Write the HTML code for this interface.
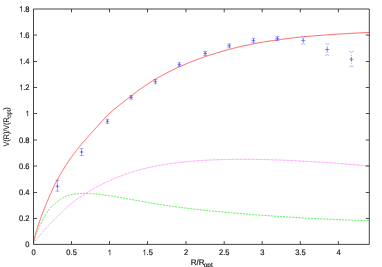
<!DOCTYPE html>
<html><head><meta charset="utf-8"><title>plot</title>
<style>
html,body{margin:0;padding:0;background:#fff;}
svg{display:block;will-change:transform;}
text{font-family:"Liberation Sans",sans-serif;font-size:8.0px;fill:#111;stroke:#111;stroke-width:0.18px;text-rendering:geometricPrecision;}
</style></head><body>
<svg width="382" height="267" viewBox="0 0 382 267">
<rect x="0" y="0" width="382" height="267" fill="#fff"/>

<path d="M33.50,244.39 L33.50,244.24 L33.51,244.09 L33.51,243.93 L33.52,243.77 L33.53,243.59 L33.55,243.41 L33.57,243.23 L33.59,243.04 L33.61,242.84 L33.63,242.63 L33.66,242.42 L33.69,242.20 L33.73,241.98 L33.76,241.75 L33.80,241.51 L33.85,241.27 L33.89,241.02 L33.94,240.77 L33.99,240.51 L34.04,240.24 L34.09,239.97 L34.15,239.69 L34.21,239.41 L34.28,239.12 L34.34,238.82 L34.41,238.52 L34.48,238.21 L34.56,237.89 L34.63,237.57 L34.71,237.25 L34.80,236.92 L34.88,236.58 L34.97,236.24 L35.06,235.89 L35.15,235.54 L35.25,235.18 L35.35,234.81 L35.45,234.44 L35.55,234.07 L35.66,233.69 L35.77,233.30 L35.88,232.91 L35.99,232.51 L36.11,232.11 L36.23,231.70 L36.35,231.29 L36.48,230.87 L36.61,230.45 L36.74,230.02 L36.87,229.58 L37.01,229.15 L37.15,228.70 L37.29,228.25 L37.43,227.80 L37.58,227.34 L37.73,226.88 L37.88,226.41 L38.04,225.94 L38.19,225.46 L38.35,224.98 L38.52,224.49 L38.68,224.00 L38.85,223.50 L39.02,223.00 L39.20,222.50 L39.37,221.99 L39.55,221.47 L39.74,220.95 L39.92,220.43 L40.11,219.90 L40.30,219.37 L40.49,218.83 L40.69,218.29 L40.88,217.74 L41.09,217.19 L41.29,216.64 L41.50,216.08 L41.70,215.52 L41.92,214.95 L42.13,214.38 L42.35,213.81 L42.57,213.23 L42.79,212.64 L43.02,212.06 L43.24,211.47 L43.47,210.87 L43.71,210.27 L43.94,209.67 L44.18,209.06 L44.42,208.45 L44.67,207.84 L44.91,207.22 L45.16,206.60 L45.42,205.98 L45.67,205.35 L45.93,204.72 L46.19,204.08 L46.45,203.44 L46.72,202.80 L46.99,202.15 L47.26,201.50 L47.53,200.85 L47.81,200.19 L48.09,199.53 L48.37,198.87 L48.65,198.20 L48.94,197.53 L49.23,196.86 L49.52,196.19 L49.82,195.51 L50.12,194.82 L50.42,194.14 L50.72,193.45 L51.03,192.76 L51.34,192.07 L51.65,191.37 L51.96,190.67 L52.28,189.97 L52.60,189.27 L52.92,188.57 L53.24,187.87 L53.57,187.17 L53.90,186.47 L54.24,185.77 L54.57,185.08 L54.91,184.39 L55.25,183.70 L55.60,183.01 L55.94,182.33 L56.29,181.65 L56.64,180.98 L57.00,180.31 L57.36,179.65 L57.72,178.99 L58.08,178.34 L58.44,177.69 L58.81,177.05 L59.18,176.40 L59.56,175.76 L59.93,175.12 L60.31,174.47 L60.69,173.83 L61.08,173.19 L61.46,172.54 L61.85,171.89 L62.25,171.24 L62.64,170.58 L63.04,169.92 L63.44,169.26 L63.84,168.60 L64.25,167.94 L64.66,167.27 L65.07,166.61 L65.48,165.94 L65.90,165.28 L66.32,164.61 L66.74,163.95 L67.17,163.29 L67.59,162.63 L68.02,161.97 L68.46,161.32 L68.89,160.67 L69.33,160.02 L69.77,159.38 L70.22,158.74 L70.66,158.11 L71.11,157.48 L71.56,156.85 L72.02,156.22 L72.47,155.60 L72.93,154.98 L73.40,154.36 L73.86,153.75 L74.33,153.13 L74.80,152.52 L75.27,151.91 L75.75,151.30 L76.23,150.70 L76.71,150.09 L77.19,149.48 L77.68,148.88 L78.17,148.27 L78.66,147.67 L79.16,147.07 L79.66,146.46 L80.16,145.86 L80.66,145.26 L81.16,144.65 L81.67,144.05 L82.18,143.45 L82.70,142.84 L83.21,142.24 L83.73,141.64 L84.26,141.03 L84.78,140.42 L85.31,139.82 L85.84,139.21 L86.37,138.60 L86.91,137.99 L87.44,137.38 L87.98,136.77 L88.53,136.15 L89.07,135.54 L89.62,134.92 L90.17,134.30 L90.73,133.68 L91.29,133.06 L91.85,132.43 L92.41,131.80 L92.97,131.17 L93.54,130.54 L94.11,129.91 L94.68,129.27 L95.26,128.63 L95.84,127.99 L96.42,127.34 L97.00,126.69 L97.59,126.04 L98.18,125.38 L98.77,124.72 L99.37,124.06 L99.96,123.40 L100.56,122.74 L101.17,122.07 L101.77,121.41 L102.38,120.74 L102.99,120.08 L103.61,119.42 L104.22,118.76 L104.84,118.11 L105.46,117.46 L106.09,116.81 L106.71,116.17 L107.34,115.54 L107.98,114.91 L108.61,114.29 L109.25,113.68 L109.89,113.07 L110.53,112.48 L111.18,111.89 L111.83,111.31 L112.48,110.74 L113.13,110.17 L113.79,109.61 L114.45,109.06 L115.11,108.51 L115.78,107.97 L116.44,107.43 L117.11,106.90 L117.79,106.36 L118.46,105.83 L119.14,105.30 L119.82,104.77 L120.51,104.25 L121.19,103.72 L121.88,103.19 L122.57,102.66 L123.27,102.13 L123.96,101.59 L124.66,101.05 L125.37,100.51 L126.07,99.96 L126.78,99.41 L127.49,98.86 L128.20,98.30 L128.92,97.74 L129.64,97.18 L130.36,96.61 L131.09,96.04 L131.81,95.47 L132.54,94.90 L133.27,94.33 L134.01,93.76 L134.75,93.20 L135.49,92.63 L136.23,92.06 L136.98,91.50 L137.72,90.94 L138.48,90.38 L139.23,89.83 L139.99,89.28 L140.75,88.73 L141.51,88.19 L142.27,87.65 L143.04,87.12 L143.81,86.59 L144.58,86.06 L145.36,85.54 L146.14,85.02 L146.92,84.50 L147.70,83.99 L148.49,83.48 L149.28,82.97 L150.07,82.47 L150.86,81.97 L151.66,81.47 L152.46,80.98 L153.26,80.49 L154.07,80.00 L154.87,79.52 L155.68,79.04 L156.50,78.56 L157.31,78.09 L158.13,77.62 L158.95,77.15 L159.78,76.68 L160.60,76.22 L161.43,75.76 L162.26,75.31 L163.10,74.86 L163.94,74.41 L164.78,73.96 L165.62,73.52 L166.47,73.07 L167.31,72.64 L168.16,72.20 L169.02,71.77 L169.87,71.34 L170.73,70.91 L171.60,70.49 L172.46,70.07 L173.33,69.65 L174.20,69.23 L175.07,68.82 L175.94,68.41 L176.82,68.00 L177.70,67.59 L178.59,67.19 L179.47,66.79 L180.36,66.39 L181.25,65.99 L182.15,65.60 L183.04,65.21 L183.94,64.82 L184.85,64.43 L185.75,64.05 L186.66,63.67 L187.57,63.29 L188.48,62.91 L189.40,62.54 L190.32,62.17 L191.24,61.80 L192.16,61.43 L193.09,61.07 L194.02,60.71 L194.95,60.35 L195.88,59.99 L196.82,59.64 L197.76,59.29 L198.70,58.94 L199.65,58.59 L200.60,58.25 L201.55,57.91 L202.50,57.57 L203.46,57.23 L204.41,56.90 L205.38,56.57 L206.34,56.24 L207.31,55.91 L208.28,55.59 L209.25,55.27 L210.22,54.95 L211.20,54.63 L212.18,54.32 L213.17,54.01 L214.15,53.70 L215.14,53.39 L216.13,53.09 L217.13,52.79 L218.12,52.49 L219.12,52.19 L220.12,51.90 L221.13,51.61 L222.14,51.32 L223.15,51.03 L224.16,50.75 L225.17,50.47 L226.19,50.19 L227.21,49.91 L228.24,49.64 L229.26,49.37 L230.29,49.10 L231.32,48.83 L232.36,48.57 L233.39,48.31 L234.43,48.05 L235.48,47.79 L236.52,47.54 L237.57,47.29 L238.62,47.04 L239.67,46.79 L240.73,46.55 L241.79,46.31 L242.85,46.07 L243.91,45.83 L244.98,45.60 L246.05,45.37 L247.12,45.14 L248.20,44.91 L249.27,44.69 L250.35,44.47 L251.44,44.25 L252.52,44.03 L253.61,43.82 L254.70,43.61 L255.80,43.40 L256.89,43.20 L257.99,42.99 L259.09,42.79 L260.20,42.59 L261.30,42.40 L262.41,42.20 L263.53,42.01 L264.64,41.83 L265.76,41.64 L266.88,41.46 L268.00,41.28 L269.13,41.10 L270.26,40.92 L271.39,40.75 L272.53,40.58 L273.66,40.41 L274.80,40.24 L275.94,40.08 L277.09,39.92 L278.24,39.76 L279.39,39.60 L280.54,39.44 L281.70,39.29 L282.85,39.14 L284.02,38.99 L285.18,38.84 L286.35,38.70 L287.51,38.56 L288.69,38.42 L289.86,38.28 L291.04,38.14 L292.22,38.01 L293.40,37.87 L294.59,37.74 L295.77,37.61 L296.97,37.48 L298.16,37.36 L299.36,37.23 L300.55,37.11 L301.76,36.99 L302.96,36.87 L304.17,36.76 L305.38,36.64 L306.59,36.53 L307.80,36.42 L309.02,36.30 L310.24,36.20 L311.47,36.09 L312.69,35.98 L313.92,35.88 L315.15,35.78 L316.39,35.67 L317.62,35.57 L318.86,35.47 L320.10,35.38 L321.35,35.28 L322.60,35.19 L323.85,35.09 L325.10,35.00 L326.35,34.91 L327.61,34.82 L328.87,34.73 L330.14,34.64 L331.40,34.56 L332.67,34.47 L333.94,34.39 L335.22,34.31 L336.50,34.22 L337.78,34.14 L339.06,34.06 L340.34,33.99 L341.63,33.91 L342.92,33.83 L344.21,33.75 L345.51,33.68 L346.81,33.60 L348.11,33.53 L349.42,33.46 L350.72,33.39 L352.03,33.32 L353.34,33.24 L354.66,33.17 L355.98,33.11 L357.30,33.04 L358.62,32.97 L359.94,32.90 L361.27,32.84 L362.60,32.77 L363.94,32.70 L365.27,32.64 L366.61,32.57 L367.96,32.51 L369.30,32.45" fill="none" stroke="#ff2828" stroke-width="0.72"/>
<path d="M33.50,244.20 L33.50,244.04 L33.51,243.88 L33.51,243.72 L33.52,243.55 L33.53,243.38 L33.55,243.21 L33.57,243.04 L33.59,242.86 L33.61,242.68 L33.63,242.49 L33.66,242.30 L33.69,242.11 L33.73,241.92 L33.76,241.72 L33.80,241.53 L33.85,241.32 L33.89,241.12 L33.94,240.91 L33.99,240.70 L34.04,240.48 L34.09,240.26 L34.15,240.04 L34.21,239.82 L34.28,239.59 L34.34,239.36 L34.41,239.12 L34.48,238.88 L34.56,238.64 L34.63,238.40 L34.71,238.15 L34.80,237.90 L34.88,237.64 L34.97,237.38 L35.06,237.12 L35.15,236.85 L35.25,236.58 L35.35,236.31 L35.45,236.04 L35.55,235.76 L35.66,235.47 L35.77,235.19 L35.88,234.90 L35.99,234.60 L36.11,234.30 L36.23,234.00 L36.35,233.70 L36.48,233.39 L36.61,233.08 L36.74,232.76 L36.87,232.44 L37.01,232.11 L37.15,231.79 L37.29,231.46 L37.43,231.12 L37.58,230.78 L37.73,230.44 L37.88,230.09 L38.04,229.74 L38.19,229.38 L38.35,229.03 L38.52,228.66 L38.68,228.30 L38.85,227.92 L39.02,227.55 L39.20,227.17 L39.37,226.79 L39.55,226.40 L39.74,226.01 L39.92,225.61 L40.11,225.21 L40.30,224.81 L40.49,224.40 L40.69,223.99 L40.88,223.58 L41.09,223.16 L41.29,222.74 L41.50,222.31 L41.70,221.89 L41.92,221.46 L42.13,221.03 L42.35,220.59 L42.57,220.16 L42.79,219.72 L43.02,219.29 L43.24,218.85 L43.47,218.42 L43.71,217.98 L43.94,217.54 L44.18,217.11 L44.42,216.67 L44.67,216.24 L44.91,215.80 L45.16,215.37 L45.42,214.94 L45.67,214.51 L45.93,214.09 L46.19,213.66 L46.45,213.24 L46.72,212.82 L46.99,212.41 L47.26,212.00 L47.53,211.59 L47.81,211.19 L48.09,210.79 L48.37,210.40 L48.65,210.01 L48.94,209.62 L49.23,209.25 L49.52,208.87 L49.82,208.51 L50.12,208.15 L50.42,207.79 L50.72,207.44 L51.03,207.10 L51.34,206.77 L51.65,206.45 L51.96,206.13 L52.28,205.82 L52.60,205.52 L52.92,205.22 L53.24,204.94 L53.57,204.66 L53.90,204.38 L54.24,204.11 L54.57,203.85 L54.91,203.58 L55.25,203.31 L55.60,203.05 L55.94,202.78 L56.29,202.51 L56.64,202.24 L57.00,201.97 L57.36,201.69 L57.72,201.42 L58.08,201.15 L58.44,200.87 L58.81,200.60 L59.18,200.33 L59.56,200.06 L59.93,199.80 L60.31,199.54 L60.69,199.28 L61.08,199.02 L61.46,198.77 L61.85,198.53 L62.25,198.28 L62.64,198.05 L63.04,197.82 L63.44,197.60 L63.84,197.38 L64.25,197.17 L64.66,196.97 L65.07,196.78 L65.48,196.59 L65.90,196.41 L66.32,196.24 L66.74,196.07 L67.17,195.91 L67.59,195.75 L68.02,195.60 L68.46,195.46 L68.89,195.32 L69.33,195.19 L69.77,195.06 L70.22,194.94 L70.66,194.83 L71.11,194.72 L71.56,194.61 L72.02,194.52 L72.47,194.42 L72.93,194.33 L73.40,194.25 L73.86,194.17 L74.33,194.09 L74.80,194.02 L75.27,193.96 L75.75,193.89 L76.23,193.84 L76.71,193.78 L77.19,193.73 L77.68,193.69 L78.17,193.64 L78.66,193.61 L79.16,193.57 L79.66,193.54 L80.16,193.51 L80.66,193.49 L81.16,193.46 L81.67,193.44 L82.18,193.43 L82.70,193.42 L83.21,193.41 L83.73,193.40 L84.26,193.40 L84.78,193.40 L85.31,193.40 L85.84,193.41 L86.37,193.41 L86.91,193.43 L87.44,193.44 L87.98,193.46 L88.53,193.48 L89.07,193.50 L89.62,193.53 L90.17,193.55 L90.73,193.58 L91.29,193.62 L91.85,193.65 L92.41,193.69 L92.97,193.73 L93.54,193.78 L94.11,193.82 L94.68,193.87 L95.26,193.92 L95.84,193.98 L96.42,194.03 L97.00,194.09 L97.59,194.15 L98.18,194.21 L98.77,194.28 L99.37,194.34 L99.96,194.41 L100.56,194.48 L101.17,194.56 L101.77,194.63 L102.38,194.71 L102.99,194.79 L103.61,194.87 L104.22,194.95 L104.84,195.03 L105.46,195.12 L106.09,195.21 L106.71,195.30 L107.34,195.39 L107.98,195.48 L108.61,195.58 L109.25,195.68 L109.89,195.78 L110.53,195.88 L111.18,195.98 L111.83,196.08 L112.48,196.18 L113.13,196.29 L113.79,196.40 L114.45,196.51 L115.11,196.62 L115.78,196.73 L116.44,196.84 L117.11,196.96 L117.79,197.07 L118.46,197.19 L119.14,197.31 L119.82,197.42 L120.51,197.54 L121.19,197.66 L121.88,197.79 L122.57,197.91 L123.27,198.03 L123.96,198.16 L124.66,198.28 L125.37,198.41 L126.07,198.54 L126.78,198.67 L127.49,198.79 L128.20,198.92 L128.92,199.05 L129.64,199.18 L130.36,199.32 L131.09,199.45 L131.81,199.58 L132.54,199.71 L133.27,199.85 L134.01,199.98 L134.75,200.12 L135.49,200.25 L136.23,200.39 L136.98,200.52 L137.72,200.66 L138.48,200.80 L139.23,200.93 L139.99,201.07 L140.75,201.21 L141.51,201.34 L142.27,201.48 L143.04,201.62 L143.81,201.76 L144.58,201.89 L145.36,202.03 L146.14,202.17 L146.92,202.30 L147.70,202.44 L148.49,202.58 L149.28,202.71 L150.07,202.85 L150.86,202.99 L151.66,203.12 L152.46,203.26 L153.26,203.39 L154.07,203.53 L154.87,203.66 L155.68,203.80 L156.50,203.93 L157.31,204.06 L158.13,204.20 L158.95,204.33 L159.78,204.46 L160.60,204.59 L161.43,204.72 L162.26,204.85 L163.10,204.98 L163.94,205.11 L164.78,205.23 L165.62,205.36 L166.47,205.49 L167.31,205.61 L168.16,205.74 L169.02,205.86 L169.87,205.99 L170.73,206.11 L171.60,206.23 L172.46,206.35 L173.33,206.47 L174.20,206.60 L175.07,206.72 L175.94,206.84 L176.82,206.95 L177.70,207.07 L178.59,207.19 L179.47,207.31 L180.36,207.42 L181.25,207.54 L182.15,207.66 L183.04,207.77 L183.94,207.89 L184.85,208.00 L185.75,208.11 L186.66,208.23 L187.57,208.34 L188.48,208.45 L189.40,208.56 L190.32,208.67 L191.24,208.78 L192.16,208.89 L193.09,209.00 L194.02,209.11 L194.95,209.21 L195.88,209.32 L196.82,209.43 L197.76,209.53 L198.70,209.64 L199.65,209.74 L200.60,209.85 L201.55,209.95 L202.50,210.06 L203.46,210.16 L204.41,210.26 L205.38,210.36 L206.34,210.46 L207.31,210.57 L208.28,210.67 L209.25,210.77 L210.22,210.87 L211.20,210.96 L212.18,211.06 L213.17,211.16 L214.15,211.26 L215.14,211.35 L216.13,211.45 L217.13,211.55 L218.12,211.64 L219.12,211.74 L220.12,211.83 L221.13,211.92 L222.14,212.02 L223.15,212.11 L224.16,212.20 L225.17,212.30 L226.19,212.39 L227.21,212.48 L228.24,212.57 L229.26,212.66 L230.29,212.75 L231.32,212.84 L232.36,212.93 L233.39,213.02 L234.43,213.10 L235.48,213.19 L236.52,213.28 L237.57,213.37 L238.62,213.45 L239.67,213.54 L240.73,213.62 L241.79,213.71 L242.85,213.80 L243.91,213.88 L244.98,213.96 L246.05,214.05 L247.12,214.13 L248.20,214.22 L249.27,214.30 L250.35,214.38 L251.44,214.47 L252.52,214.55 L253.61,214.63 L254.70,214.71 L255.80,214.79 L256.89,214.87 L257.99,214.96 L259.09,215.04 L260.20,215.12 L261.30,215.20 L262.41,215.28 L263.53,215.36 L264.64,215.44 L265.76,215.52 L266.88,215.60 L268.00,215.67 L269.13,215.75 L270.26,215.83 L271.39,215.91 L272.53,215.99 L273.66,216.07 L274.80,216.14 L275.94,216.22 L277.09,216.30 L278.24,216.37 L279.39,216.45 L280.54,216.53 L281.70,216.60 L282.85,216.68 L284.02,216.75 L285.18,216.83 L286.35,216.90 L287.51,216.98 L288.69,217.05 L289.86,217.13 L291.04,217.20 L292.22,217.27 L293.40,217.34 L294.59,217.42 L295.77,217.49 L296.97,217.56 L298.16,217.63 L299.36,217.70 L300.55,217.77 L301.76,217.84 L302.96,217.91 L304.17,217.97 L305.38,218.04 L306.59,218.11 L307.80,218.18 L309.02,218.24 L310.24,218.31 L311.47,218.37 L312.69,218.44 L313.92,218.50 L315.15,218.56 L316.39,218.63 L317.62,218.69 L318.86,218.75 L320.10,218.81 L321.35,218.87 L322.60,218.93 L323.85,218.99 L325.10,219.05 L326.35,219.11 L327.61,219.16 L328.87,219.22 L330.14,219.28 L331.40,219.33 L332.67,219.38 L333.94,219.44 L335.22,219.49 L336.50,219.54 L337.78,219.59 L339.06,219.64 L340.34,219.69 L341.63,219.74 L342.92,219.79 L344.21,219.84 L345.51,219.89 L346.81,219.93 L348.11,219.98 L349.42,220.02 L350.72,220.06 L352.03,220.11 L353.34,220.15 L354.66,220.19 L355.98,220.23 L357.30,220.27 L358.62,220.31 L359.94,220.34 L361.27,220.38 L362.60,220.41 L363.94,220.45 L365.27,220.48 L366.61,220.51 L367.96,220.55 L369.30,220.58" fill="none" stroke="#18ea18" stroke-width="0.78" stroke-dasharray="1.9 1.2"/>
<path d="M33.50,244.20 L33.50,244.17 L33.51,244.13 L33.51,244.09 L33.52,244.05 L33.53,244.01 L33.55,243.96 L33.57,243.91 L33.59,243.85 L33.61,243.80 L33.63,243.74 L33.66,243.67 L33.69,243.61 L33.73,243.54 L33.76,243.47 L33.80,243.39 L33.85,243.31 L33.89,243.23 L33.94,243.15 L33.99,243.06 L34.04,242.97 L34.09,242.88 L34.15,242.79 L34.21,242.69 L34.28,242.59 L34.34,242.48 L34.41,242.38 L34.48,242.27 L34.56,242.15 L34.63,242.04 L34.71,241.92 L34.80,241.80 L34.88,241.68 L34.97,241.55 L35.06,241.42 L35.15,241.29 L35.25,241.16 L35.35,241.02 L35.45,240.88 L35.55,240.74 L35.66,240.59 L35.77,240.44 L35.88,240.29 L35.99,240.14 L36.11,239.98 L36.23,239.82 L36.35,239.66 L36.48,239.50 L36.61,239.33 L36.74,239.16 L36.87,238.99 L37.01,238.81 L37.15,238.64 L37.29,238.46 L37.43,238.27 L37.58,238.09 L37.73,237.90 L37.88,237.71 L38.04,237.52 L38.19,237.32 L38.35,237.13 L38.52,236.93 L38.68,236.72 L38.85,236.52 L39.02,236.31 L39.20,236.10 L39.37,235.89 L39.55,235.67 L39.74,235.46 L39.92,235.24 L40.11,235.01 L40.30,234.79 L40.49,234.56 L40.69,234.33 L40.88,234.10 L41.09,233.87 L41.29,233.63 L41.50,233.39 L41.70,233.15 L41.92,232.91 L42.13,232.66 L42.35,232.41 L42.57,232.16 L42.79,231.91 L43.02,231.65 L43.24,231.39 L43.47,231.13 L43.71,230.87 L43.94,230.61 L44.18,230.34 L44.42,230.07 L44.67,229.80 L44.91,229.53 L45.16,229.25 L45.42,228.98 L45.67,228.70 L45.93,228.41 L46.19,228.13 L46.45,227.84 L46.72,227.55 L46.99,227.26 L47.26,226.97 L47.53,226.68 L47.81,226.38 L48.09,226.08 L48.37,225.78 L48.65,225.48 L48.94,225.17 L49.23,224.86 L49.52,224.55 L49.82,224.24 L50.12,223.93 L50.42,223.61 L50.72,223.30 L51.03,222.98 L51.34,222.65 L51.65,222.33 L51.96,222.01 L52.28,221.68 L52.60,221.35 L52.92,221.02 L53.24,220.68 L53.57,220.35 L53.90,220.01 L54.24,219.67 L54.57,219.33 L54.91,218.99 L55.25,218.64 L55.60,218.30 L55.94,217.95 L56.29,217.60 L56.64,217.25 L57.00,216.89 L57.36,216.54 L57.72,216.18 L58.08,215.82 L58.44,215.46 L58.81,215.09 L59.18,214.73 L59.56,214.36 L59.93,213.99 L60.31,213.62 L60.69,213.25 L61.08,212.88 L61.46,212.50 L61.85,212.12 L62.25,211.75 L62.64,211.37 L63.04,210.99 L63.44,210.60 L63.84,210.22 L64.25,209.84 L64.66,209.45 L65.07,209.07 L65.48,208.68 L65.90,208.30 L66.32,207.91 L66.74,207.53 L67.17,207.14 L67.59,206.76 L68.02,206.38 L68.46,205.99 L68.89,205.61 L69.33,205.23 L69.77,204.85 L70.22,204.47 L70.66,204.09 L71.11,203.72 L71.56,203.35 L72.02,202.97 L72.47,202.60 L72.93,202.23 L73.40,201.87 L73.86,201.50 L74.33,201.14 L74.80,200.78 L75.27,200.42 L75.75,200.06 L76.23,199.70 L76.71,199.35 L77.19,198.99 L77.68,198.64 L78.17,198.29 L78.66,197.94 L79.16,197.59 L79.66,197.25 L80.16,196.90 L80.66,196.56 L81.16,196.22 L81.67,195.88 L82.18,195.54 L82.70,195.20 L83.21,194.86 L83.73,194.53 L84.26,194.19 L84.78,193.86 L85.31,193.53 L85.84,193.20 L86.37,192.87 L86.91,192.54 L87.44,192.21 L87.98,191.89 L88.53,191.56 L89.07,191.24 L89.62,190.91 L90.17,190.59 L90.73,190.27 L91.29,189.95 L91.85,189.63 L92.41,189.31 L92.97,189.00 L93.54,188.68 L94.11,188.36 L94.68,188.05 L95.26,187.73 L95.84,187.42 L96.42,187.11 L97.00,186.79 L97.59,186.48 L98.18,186.17 L98.77,185.86 L99.37,185.56 L99.96,185.25 L100.56,184.94 L101.17,184.64 L101.77,184.34 L102.38,184.03 L102.99,183.73 L103.61,183.43 L104.22,183.13 L104.84,182.83 L105.46,182.54 L106.09,182.24 L106.71,181.95 L107.34,181.65 L107.98,181.36 L108.61,181.07 L109.25,180.78 L109.89,180.50 L110.53,180.21 L111.18,179.93 L111.83,179.64 L112.48,179.36 L113.13,179.08 L113.79,178.80 L114.45,178.52 L115.11,178.25 L115.78,177.97 L116.44,177.70 L117.11,177.43 L117.79,177.16 L118.46,176.89 L119.14,176.62 L119.82,176.36 L120.51,176.10 L121.19,175.84 L121.88,175.58 L122.57,175.32 L123.27,175.06 L123.96,174.81 L124.66,174.56 L125.37,174.31 L126.07,174.06 L126.78,173.81 L127.49,173.57 L128.20,173.32 L128.92,173.08 L129.64,172.84 L130.36,172.61 L131.09,172.37 L131.81,172.14 L132.54,171.91 L133.27,171.68 L134.01,171.46 L134.75,171.23 L135.49,171.01 L136.23,170.79 L136.98,170.57 L137.72,170.36 L138.48,170.14 L139.23,169.93 L139.99,169.72 L140.75,169.52 L141.51,169.31 L142.27,169.11 L143.04,168.91 L143.81,168.72 L144.58,168.52 L145.36,168.33 L146.14,168.14 L146.92,167.95 L147.70,167.77 L148.49,167.59 L149.28,167.41 L150.07,167.23 L150.86,167.06 L151.66,166.88 L152.46,166.71 L153.26,166.55 L154.07,166.38 L154.87,166.22 L155.68,166.06 L156.50,165.90 L157.31,165.75 L158.13,165.59 L158.95,165.44 L159.78,165.29 L160.60,165.15 L161.43,165.00 L162.26,164.86 L163.10,164.72 L163.94,164.58 L164.78,164.45 L165.62,164.31 L166.47,164.18 L167.31,164.05 L168.16,163.93 L169.02,163.80 L169.87,163.68 L170.73,163.56 L171.60,163.44 L172.46,163.32 L173.33,163.21 L174.20,163.09 L175.07,162.98 L175.94,162.87 L176.82,162.77 L177.70,162.66 L178.59,162.56 L179.47,162.45 L180.36,162.35 L181.25,162.26 L182.15,162.16 L183.04,162.07 L183.94,161.97 L184.85,161.88 L185.75,161.79 L186.66,161.71 L187.57,161.62 L188.48,161.54 L189.40,161.45 L190.32,161.37 L191.24,161.29 L192.16,161.22 L193.09,161.14 L194.02,161.07 L194.95,160.99 L195.88,160.92 L196.82,160.85 L197.76,160.78 L198.70,160.72 L199.65,160.65 L200.60,160.59 L201.55,160.53 L202.50,160.47 L203.46,160.41 L204.41,160.35 L205.38,160.30 L206.34,160.24 L207.31,160.19 L208.28,160.14 L209.25,160.09 L210.22,160.04 L211.20,160.00 L212.18,159.95 L213.17,159.91 L214.15,159.87 L215.14,159.83 L216.13,159.79 L217.13,159.75 L218.12,159.72 L219.12,159.68 L220.12,159.65 L221.13,159.62 L222.14,159.59 L223.15,159.56 L224.16,159.54 L225.17,159.51 L226.19,159.49 L227.21,159.47 L228.24,159.45 L229.26,159.43 L230.29,159.41 L231.32,159.39 L232.36,159.38 L233.39,159.36 L234.43,159.35 L235.48,159.34 L236.52,159.33 L237.57,159.32 L238.62,159.32 L239.67,159.31 L240.73,159.31 L241.79,159.31 L242.85,159.30 L243.91,159.31 L244.98,159.31 L246.05,159.31 L247.12,159.32 L248.20,159.32 L249.27,159.33 L250.35,159.34 L251.44,159.35 L252.52,159.36 L253.61,159.37 L254.70,159.39 L255.80,159.40 L256.89,159.42 L257.99,159.44 L259.09,159.45 L260.20,159.48 L261.30,159.50 L262.41,159.52 L263.53,159.55 L264.64,159.57 L265.76,159.60 L266.88,159.63 L268.00,159.66 L269.13,159.69 L270.26,159.72 L271.39,159.75 L272.53,159.79 L273.66,159.82 L274.80,159.86 L275.94,159.90 L277.09,159.94 L278.24,159.98 L279.39,160.02 L280.54,160.07 L281.70,160.11 L282.85,160.16 L284.02,160.21 L285.18,160.25 L286.35,160.30 L287.51,160.35 L288.69,160.41 L289.86,160.46 L291.04,160.51 L292.22,160.57 L293.40,160.63 L294.59,160.68 L295.77,160.74 L296.97,160.80 L298.16,160.87 L299.36,160.93 L300.55,160.99 L301.76,161.06 L302.96,161.12 L304.17,161.19 L305.38,161.26 L306.59,161.33 L307.80,161.40 L309.02,161.47 L310.24,161.54 L311.47,161.62 L312.69,161.69 L313.92,161.77 L315.15,161.85 L316.39,161.92 L317.62,162.00 L318.86,162.08 L320.10,162.17 L321.35,162.25 L322.60,162.33 L323.85,162.42 L325.10,162.50 L326.35,162.59 L327.61,162.68 L328.87,162.77 L330.14,162.86 L331.40,162.95 L332.67,163.04 L333.94,163.13 L335.22,163.23 L336.50,163.32 L337.78,163.42 L339.06,163.52 L340.34,163.61 L341.63,163.71 L342.92,163.81 L344.21,163.91 L345.51,164.02 L346.81,164.12 L348.11,164.22 L349.42,164.33 L350.72,164.44 L352.03,164.54 L353.34,164.65 L354.66,164.76 L355.98,164.87 L357.30,164.98 L358.62,165.09 L359.94,165.21 L361.27,165.32 L362.60,165.43 L363.94,165.55 L365.27,165.67 L366.61,165.78 L367.96,165.90 L369.30,166.02" fill="none" stroke="#ffb4ff" stroke-width="0.8"/>
<path d="M33.50,244.20 L33.50,244.17 L33.51,244.13 L33.51,244.09 L33.52,244.05 L33.53,244.01 L33.55,243.96 L33.57,243.91 L33.59,243.85 L33.61,243.80 L33.63,243.74 L33.66,243.67 L33.69,243.61 L33.73,243.54 L33.76,243.47 L33.80,243.39 L33.85,243.31 L33.89,243.23 L33.94,243.15 L33.99,243.06 L34.04,242.97 L34.09,242.88 L34.15,242.79 L34.21,242.69 L34.28,242.59 L34.34,242.48 L34.41,242.38 L34.48,242.27 L34.56,242.15 L34.63,242.04 L34.71,241.92 L34.80,241.80 L34.88,241.68 L34.97,241.55 L35.06,241.42 L35.15,241.29 L35.25,241.16 L35.35,241.02 L35.45,240.88 L35.55,240.74 L35.66,240.59 L35.77,240.44 L35.88,240.29 L35.99,240.14 L36.11,239.98 L36.23,239.82 L36.35,239.66 L36.48,239.50 L36.61,239.33 L36.74,239.16 L36.87,238.99 L37.01,238.81 L37.15,238.64 L37.29,238.46 L37.43,238.27 L37.58,238.09 L37.73,237.90 L37.88,237.71 L38.04,237.52 L38.19,237.32 L38.35,237.13 L38.52,236.93 L38.68,236.72 L38.85,236.52 L39.02,236.31 L39.20,236.10 L39.37,235.89 L39.55,235.67 L39.74,235.46 L39.92,235.24 L40.11,235.01 L40.30,234.79 L40.49,234.56 L40.69,234.33 L40.88,234.10 L41.09,233.87 L41.29,233.63 L41.50,233.39 L41.70,233.15 L41.92,232.91 L42.13,232.66 L42.35,232.41 L42.57,232.16 L42.79,231.91 L43.02,231.65 L43.24,231.39 L43.47,231.13 L43.71,230.87 L43.94,230.61 L44.18,230.34 L44.42,230.07 L44.67,229.80 L44.91,229.53 L45.16,229.25 L45.42,228.98 L45.67,228.70 L45.93,228.41 L46.19,228.13 L46.45,227.84 L46.72,227.55 L46.99,227.26 L47.26,226.97 L47.53,226.68 L47.81,226.38 L48.09,226.08 L48.37,225.78 L48.65,225.48 L48.94,225.17 L49.23,224.86 L49.52,224.55 L49.82,224.24 L50.12,223.93 L50.42,223.61 L50.72,223.30 L51.03,222.98 L51.34,222.65 L51.65,222.33 L51.96,222.01 L52.28,221.68 L52.60,221.35 L52.92,221.02 L53.24,220.68 L53.57,220.35 L53.90,220.01 L54.24,219.67 L54.57,219.33 L54.91,218.99 L55.25,218.64 L55.60,218.30 L55.94,217.95 L56.29,217.60 L56.64,217.25 L57.00,216.89 L57.36,216.54 L57.72,216.18 L58.08,215.82 L58.44,215.46 L58.81,215.09 L59.18,214.73 L59.56,214.36 L59.93,213.99 L60.31,213.62 L60.69,213.25 L61.08,212.88 L61.46,212.50 L61.85,212.12 L62.25,211.75 L62.64,211.37 L63.04,210.99 L63.44,210.60 L63.84,210.22 L64.25,209.84 L64.66,209.45 L65.07,209.07 L65.48,208.68 L65.90,208.30 L66.32,207.91 L66.74,207.53 L67.17,207.14 L67.59,206.76 L68.02,206.38 L68.46,205.99 L68.89,205.61 L69.33,205.23 L69.77,204.85 L70.22,204.47 L70.66,204.09 L71.11,203.72 L71.56,203.35 L72.02,202.97 L72.47,202.60 L72.93,202.23 L73.40,201.87 L73.86,201.50 L74.33,201.14 L74.80,200.78 L75.27,200.42 L75.75,200.06 L76.23,199.70 L76.71,199.35 L77.19,198.99 L77.68,198.64 L78.17,198.29 L78.66,197.94 L79.16,197.59 L79.66,197.25 L80.16,196.90 L80.66,196.56 L81.16,196.22 L81.67,195.88 L82.18,195.54 L82.70,195.20 L83.21,194.86 L83.73,194.53 L84.26,194.19 L84.78,193.86 L85.31,193.53 L85.84,193.20 L86.37,192.87 L86.91,192.54 L87.44,192.21 L87.98,191.89 L88.53,191.56 L89.07,191.24 L89.62,190.91 L90.17,190.59 L90.73,190.27 L91.29,189.95 L91.85,189.63 L92.41,189.31 L92.97,189.00 L93.54,188.68 L94.11,188.36 L94.68,188.05 L95.26,187.73 L95.84,187.42 L96.42,187.11 L97.00,186.79 L97.59,186.48 L98.18,186.17 L98.77,185.86 L99.37,185.56 L99.96,185.25 L100.56,184.94 L101.17,184.64 L101.77,184.34 L102.38,184.03 L102.99,183.73 L103.61,183.43 L104.22,183.13 L104.84,182.83 L105.46,182.54 L106.09,182.24 L106.71,181.95 L107.34,181.65 L107.98,181.36 L108.61,181.07 L109.25,180.78 L109.89,180.50 L110.53,180.21 L111.18,179.93 L111.83,179.64 L112.48,179.36 L113.13,179.08 L113.79,178.80 L114.45,178.52 L115.11,178.25 L115.78,177.97 L116.44,177.70 L117.11,177.43 L117.79,177.16 L118.46,176.89 L119.14,176.62 L119.82,176.36 L120.51,176.10 L121.19,175.84 L121.88,175.58 L122.57,175.32 L123.27,175.06 L123.96,174.81 L124.66,174.56 L125.37,174.31 L126.07,174.06 L126.78,173.81 L127.49,173.57 L128.20,173.32 L128.92,173.08 L129.64,172.84 L130.36,172.61 L131.09,172.37 L131.81,172.14 L132.54,171.91 L133.27,171.68 L134.01,171.46 L134.75,171.23 L135.49,171.01 L136.23,170.79 L136.98,170.57 L137.72,170.36 L138.48,170.14 L139.23,169.93 L139.99,169.72 L140.75,169.52 L141.51,169.31 L142.27,169.11 L143.04,168.91 L143.81,168.72 L144.58,168.52 L145.36,168.33 L146.14,168.14 L146.92,167.95 L147.70,167.77 L148.49,167.59 L149.28,167.41 L150.07,167.23 L150.86,167.06 L151.66,166.88 L152.46,166.71 L153.26,166.55 L154.07,166.38 L154.87,166.22 L155.68,166.06 L156.50,165.90 L157.31,165.75 L158.13,165.59 L158.95,165.44 L159.78,165.29 L160.60,165.15 L161.43,165.00 L162.26,164.86 L163.10,164.72 L163.94,164.58 L164.78,164.45 L165.62,164.31 L166.47,164.18 L167.31,164.05 L168.16,163.93 L169.02,163.80 L169.87,163.68 L170.73,163.56 L171.60,163.44 L172.46,163.32 L173.33,163.21 L174.20,163.09 L175.07,162.98 L175.94,162.87 L176.82,162.77 L177.70,162.66 L178.59,162.56 L179.47,162.45 L180.36,162.35 L181.25,162.26 L182.15,162.16 L183.04,162.07 L183.94,161.97 L184.85,161.88 L185.75,161.79 L186.66,161.71 L187.57,161.62 L188.48,161.54 L189.40,161.45 L190.32,161.37 L191.24,161.29 L192.16,161.22 L193.09,161.14 L194.02,161.07 L194.95,160.99 L195.88,160.92 L196.82,160.85 L197.76,160.78 L198.70,160.72 L199.65,160.65 L200.60,160.59 L201.55,160.53 L202.50,160.47 L203.46,160.41 L204.41,160.35 L205.38,160.30 L206.34,160.24 L207.31,160.19 L208.28,160.14 L209.25,160.09 L210.22,160.04 L211.20,160.00 L212.18,159.95 L213.17,159.91 L214.15,159.87 L215.14,159.83 L216.13,159.79 L217.13,159.75 L218.12,159.72 L219.12,159.68 L220.12,159.65 L221.13,159.62 L222.14,159.59 L223.15,159.56 L224.16,159.54 L225.17,159.51 L226.19,159.49 L227.21,159.47 L228.24,159.45 L229.26,159.43 L230.29,159.41 L231.32,159.39 L232.36,159.38 L233.39,159.36 L234.43,159.35 L235.48,159.34 L236.52,159.33 L237.57,159.32 L238.62,159.32 L239.67,159.31 L240.73,159.31 L241.79,159.31 L242.85,159.30 L243.91,159.31 L244.98,159.31 L246.05,159.31 L247.12,159.32 L248.20,159.32 L249.27,159.33 L250.35,159.34 L251.44,159.35 L252.52,159.36 L253.61,159.37 L254.70,159.39 L255.80,159.40 L256.89,159.42 L257.99,159.44 L259.09,159.45 L260.20,159.48 L261.30,159.50 L262.41,159.52 L263.53,159.55 L264.64,159.57 L265.76,159.60 L266.88,159.63 L268.00,159.66 L269.13,159.69 L270.26,159.72 L271.39,159.75 L272.53,159.79 L273.66,159.82 L274.80,159.86 L275.94,159.90 L277.09,159.94 L278.24,159.98 L279.39,160.02 L280.54,160.07 L281.70,160.11 L282.85,160.16 L284.02,160.21 L285.18,160.25 L286.35,160.30 L287.51,160.35 L288.69,160.41 L289.86,160.46 L291.04,160.51 L292.22,160.57 L293.40,160.63 L294.59,160.68 L295.77,160.74 L296.97,160.80 L298.16,160.87 L299.36,160.93 L300.55,160.99 L301.76,161.06 L302.96,161.12 L304.17,161.19 L305.38,161.26 L306.59,161.33 L307.80,161.40 L309.02,161.47 L310.24,161.54 L311.47,161.62 L312.69,161.69 L313.92,161.77 L315.15,161.85 L316.39,161.92 L317.62,162.00 L318.86,162.08 L320.10,162.17 L321.35,162.25 L322.60,162.33 L323.85,162.42 L325.10,162.50 L326.35,162.59 L327.61,162.68 L328.87,162.77 L330.14,162.86 L331.40,162.95 L332.67,163.04 L333.94,163.13 L335.22,163.23 L336.50,163.32 L337.78,163.42 L339.06,163.52 L340.34,163.61 L341.63,163.71 L342.92,163.81 L344.21,163.91 L345.51,164.02 L346.81,164.12 L348.11,164.22 L349.42,164.33 L350.72,164.44 L352.03,164.54 L353.34,164.65 L354.66,164.76 L355.98,164.87 L357.30,164.98 L358.62,165.09 L359.94,165.21 L361.27,165.32 L362.60,165.43 L363.94,165.55 L365.27,165.67 L366.61,165.78 L367.96,165.90 L369.30,166.02" fill="none" stroke="#ff94ff" stroke-width="0.7" stroke-dasharray="1.4 2.5"/>
<path d="M57.40,180.30V191.20M55.50,180.30H59.30M55.50,191.20H59.30M81.60,148.40V155.50M79.70,148.40H83.50M79.70,155.50H83.50M107.40,119.30V123.40M105.50,119.30H109.30M105.50,123.40H109.30M131.20,95.50V99.10M129.30,95.50H133.10M129.30,99.10H133.10M155.40,79.50V83.80M153.50,79.50H157.30M153.50,83.80H157.30M179.30,62.70V66.30M177.40,62.70H181.20M177.40,66.30H181.20M205.20,51.50V55.40M203.30,51.50H207.10M203.30,55.40H207.10M229.25,43.85V47.80M227.35,43.85H231.15M227.35,47.80H231.15M253.40,38.40V42.60M251.50,38.40H255.30M251.50,42.60H255.30M277.30,36.55V40.50M275.40,36.55H279.20M275.40,40.50H279.20" fill="none" stroke="#3030ff" stroke-width="0.42"/>
<path d="M303.30,44.20V36.30M327.20,55.20V43.90M351.40,66.40V51.60" fill="none" stroke="#3030ff" stroke-width="0.5" stroke-dasharray="0.9 1.77"/>
<path d="M301.30,36.30H305.30M301.30,44.20H305.30M325.20,43.90H329.20M325.20,55.20H329.20M349.40,51.60H353.40M349.40,66.40H353.40" fill="none" stroke="#3030ff" stroke-width="0.4" stroke-dasharray="1.3 1.4"/>
<path d="M55.60,186.30H59.20M79.80,152.00H83.40M105.60,121.30H109.20M129.40,97.40H133.00M153.60,81.70H157.20M177.50,64.50H181.10M203.40,53.50H207.00M227.45,45.80H231.05M251.60,40.50H255.20M275.50,38.50H279.10M301.20,40.40H305.40M303.30,38.10V42.70M325.10,49.50H329.30M327.20,47.20V51.80M349.30,59.30H353.50M351.40,57.00V61.60" fill="none" stroke="#3030ff" stroke-width="0.55"/>
<path d="M57.40,184.80V187.80M81.60,150.50V153.50M107.40,119.80V122.80M131.20,95.90V98.90M155.40,80.20V83.20M179.30,63.00V66.00M205.20,52.00V55.00M229.25,44.30V47.30M253.40,39.00V42.00M277.30,37.00V40.00" fill="none" stroke="#4c4cff" stroke-width="0.85"/>
<path d="M33.5,9.0H369.3V244.4H33.5Z" fill="none" stroke="#333" stroke-width="0.92"/>
<path d="M33.5,218.45h3.5M369.3,218.45h-3.5M33.5,192.50h3.5M369.3,192.50h-3.5M33.5,166.05h3.5M369.3,166.05h-3.5M33.5,140.00h3.5M369.3,140.00h-3.5M33.5,113.50h3.5M369.3,113.50h-3.5M33.5,87.50h3.5M369.3,87.50h-3.5M33.5,61.50h3.5M369.3,61.50h-3.5M33.5,35.05h3.5M369.3,35.05h-3.5M71.50,244.4v-3.3M71.50,9.0v3.3M109.50,244.4v-3.3M109.50,9.0v3.3M147.50,244.4v-3.3M147.50,9.0v3.3M186.00,244.4v-3.3M186.00,9.0v3.3M224.20,244.4v-3.3M224.20,9.0v3.3M262.20,244.4v-3.3M262.20,9.0v3.3M300.30,244.4v-3.3M300.30,9.0v3.3M338.40,244.4v-3.3M338.40,9.0v3.3" fill="none" stroke="#333" stroke-width="0.9"/>
<text transform="translate(25.32,246.95) scale(0.94,1)">0</text>
<text transform="translate(19.05,221.20) scale(0.94,1)">0.2</text>
<text transform="translate(19.05,195.25) scale(0.94,1)">0.4</text>
<text transform="translate(19.05,168.80) scale(0.94,1)">0.6</text>
<text transform="translate(19.05,142.75) scale(0.94,1)">0.8</text>
<path transform="translate(25.32,116.25) scale(0.003672,-0.003906)" d="M763 0H583V1147Q518 1085 412.5 1023T223 930V1104Q373 1175 485 1275T644 1472H763Z" fill="#111"/>
<path transform="translate(19.05,90.25) scale(0.003672,-0.003906)" d="M763 0H583V1147Q518 1085 412.5 1023T223 930V1104Q373 1175 485 1275T644 1472H763Z" fill="#111"/><text transform="translate(23.23,90.25) scale(0.94,1)">.2</text>
<path transform="translate(19.05,64.25) scale(0.003672,-0.003906)" d="M763 0H583V1147Q518 1085 412.5 1023T223 930V1104Q373 1175 485 1275T644 1472H763Z" fill="#111"/><text transform="translate(23.23,64.25) scale(0.94,1)">.4</text>
<path transform="translate(19.05,37.80) scale(0.003672,-0.003906)" d="M763 0H583V1147Q518 1085 412.5 1023T223 930V1104Q373 1175 485 1275T644 1472H763Z" fill="#111"/><text transform="translate(23.23,37.80) scale(0.94,1)">.6</text>
<path transform="translate(19.05,11.75) scale(0.003672,-0.003906)" d="M763 0H583V1147Q518 1085 412.5 1023T223 930V1104Q373 1175 485 1275T644 1472H763Z" fill="#111"/><text transform="translate(23.23,11.75) scale(0.94,1)">.8</text>
<text transform="translate(31.51,255.20) scale(0.94,1)">0</text>
<text transform="translate(66.37,255.20) scale(0.94,1)">0.5</text>
<path transform="translate(107.51,255.20) scale(0.003672,-0.003906)" d="M763 0H583V1147Q518 1085 412.5 1023T223 930V1104Q373 1175 485 1275T644 1472H763Z" fill="#111"/>
<path transform="translate(142.37,255.20) scale(0.003672,-0.003906)" d="M763 0H583V1147Q518 1085 412.5 1023T223 930V1104Q373 1175 485 1275T644 1472H763Z" fill="#111"/><text transform="translate(146.55,255.20) scale(0.94,1)">.5</text>
<text transform="translate(184.01,255.20) scale(0.94,1)">2</text>
<text transform="translate(219.07,255.20) scale(0.94,1)">2.5</text>
<text transform="translate(260.21,255.20) scale(0.94,1)">3</text>
<text transform="translate(295.17,255.20) scale(0.94,1)">3.5</text>
<text transform="translate(336.41,255.20) scale(0.94,1)">4</text>
<text x="190.7" y="264.9">R/R<tspan dx="-0.7" dy="2.5" font-size="6.40">opt</tspan></text>
<text style="stroke-width:0.06px" transform="translate(8.9,146.5) rotate(-90) scale(0.9,1)">V(R)/V(R<tspan dx="-0.5" dy="2.4" font-size="6.40">opt</tspan><tspan dy="-2.4">)</tspan></text>
</svg></body></html>
